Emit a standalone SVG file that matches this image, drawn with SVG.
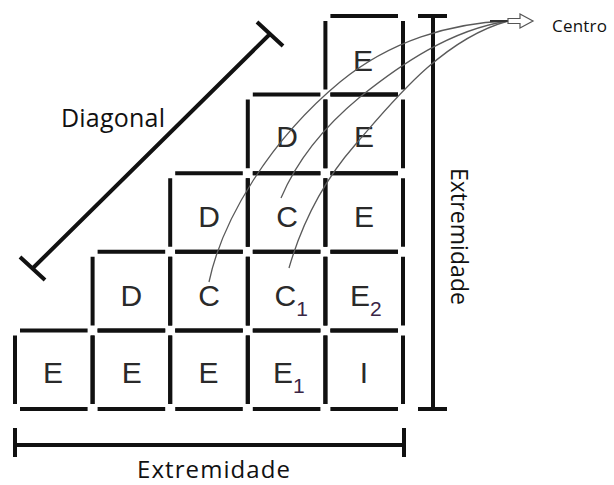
<svg xmlns="http://www.w3.org/2000/svg" width="614" height="485" viewBox="0 0 614 485">
<style>
.cell{fill:none;stroke:#111;stroke-width:4;stroke-dasharray:67.6 10 68.6 10 67.6 10 68.6 10;stroke-dashoffset:-5}
.L{font-family:"Liberation Sans",Arial,sans-serif;font-size:30px;fill:#2a2a2a;text-anchor:middle}
.LS{font-family:"Liberation Sans",Arial,sans-serif;font-size:30px;fill:#2a2a2a}
.S{font-size:21px;fill:#3a2545}
.lab{font-family:"Open Sans","Noto Sans",sans-serif;fill:#111}
.bar{stroke:#111;stroke-width:4;fill:none}
.cur{fill:none;stroke:#5a5a5a;stroke-width:1.3}
</style>
<rect width="614" height="485" fill="#fff"/>
<g id="cells">
<g id="r0c4"><rect class="cell" x="325.4" y="16" width="77.6" height="78.6"/><text class="L" x="363" y="71">E</text></g>
<g id="r1c3"><rect class="cell" x="247.8" y="94.6" width="77.6" height="78.6"/><text class="L" x="287" y="147">D</text></g>
<g id="r1c4"><rect class="cell" x="325.4" y="94.6" width="77.6" height="78.6"/><text class="L" x="364" y="147">E</text></g>
<g id="r2c2"><rect class="cell" x="170.2" y="173.2" width="77.6" height="78.6"/><text class="L" x="209" y="227">D</text></g>
<g id="r2c3"><rect class="cell" x="247.8" y="173.2" width="77.6" height="78.6"/><text class="L" x="287" y="227">C</text></g>
<g id="r2c4"><rect class="cell" x="325.4" y="173.2" width="77.6" height="78.6"/><text class="L" x="364" y="227">E</text></g>
<g id="r3c1"><rect class="cell" x="92.6" y="251.8" width="77.6" height="78.6"/><text class="L" x="131.4" y="306">D</text></g>
<g id="r3c2"><rect class="cell" x="170.2" y="251.8" width="77.6" height="78.6"/><text class="L" x="209" y="306">C</text></g>
<g id="r3c3"><rect class="cell" x="247.8" y="251.8" width="77.6" height="78.6"/><text class="LS" x="274.5" y="306">C<tspan class="S" dy="10">1</tspan></text></g>
<g id="r3c4"><rect class="cell" x="325.4" y="251.8" width="77.6" height="78.6"/><text class="LS" x="350" y="306">E<tspan class="S" dy="10">2</tspan></text></g>
<g id="r4c0"><rect class="cell" x="15" y="330.4" width="77.6" height="78.6"/><text class="L" x="53" y="383">E</text></g>
<g id="r4c1"><rect class="cell" x="92.6" y="330.4" width="77.6" height="78.6"/><text class="L" x="131.8" y="383">E</text></g>
<g id="r4c2"><rect class="cell" x="170.2" y="330.4" width="77.6" height="78.6"/><text class="L" x="208.5" y="383">E</text></g>
<g id="r4c3"><rect class="cell" x="247.8" y="330.4" width="77.6" height="78.6"/><text class="LS" x="273" y="383">E<tspan class="S" dy="10">1</tspan></text></g>
<g id="r4c4"><rect class="cell" x="325.4" y="330.4" width="77.6" height="78.6"/><text class="L" x="364" y="383">I</text></g>
</g>
<g id="diagonal">
<path class="bar" d="M32.5,268.5 L270,34 M20,257 L45,280 M257,22 L283,46"/>
<text class="lab" x="61" y="127" font-size="25" textLength="104">Diagonal</text>
</g>
<g id="extremidade-bottom">
<path class="bar" d="M15,445 L404,445 M15,428 L15,457 M404,428 L404,457"/>
<text class="lab" x="137" y="478" font-size="24" textLength="153">Extremidade</text>
</g>
<g id="extremidade-right">
<path class="bar" d="M433,16 L433,409 M418,16 L447,16 M418,409 L447,409"/>
<text class="lab" transform="translate(451,168) rotate(90)" font-size="23" textLength="137">Extremidade</text>
</g>
<g id="connectors">
<path class="cur" d="M209,282 C222,220 270,140 340,82 C390,41 450,23 508,21"/>
<path class="cur" d="M281,198 C295,165 320,130 360,97 C400,65 450,30 508,21"/>
<path class="cur" d="M289,268 C300,230 320,185 355,145 C390,105 440,40 508,21"/>
<path d="M490,21 L508,21" stroke="#333" stroke-width="2"/>
</g>
<g id="centro">
<polygon points="508,18.5 520,18.5 520,14 533,21 520,28 520,23.5 508,23.5" fill="#fff" stroke="#555" stroke-width="1.2"/>
<text class="lab" x="552" y="32" font-size="17" textLength="55">Centro</text>
</g>
</svg>
